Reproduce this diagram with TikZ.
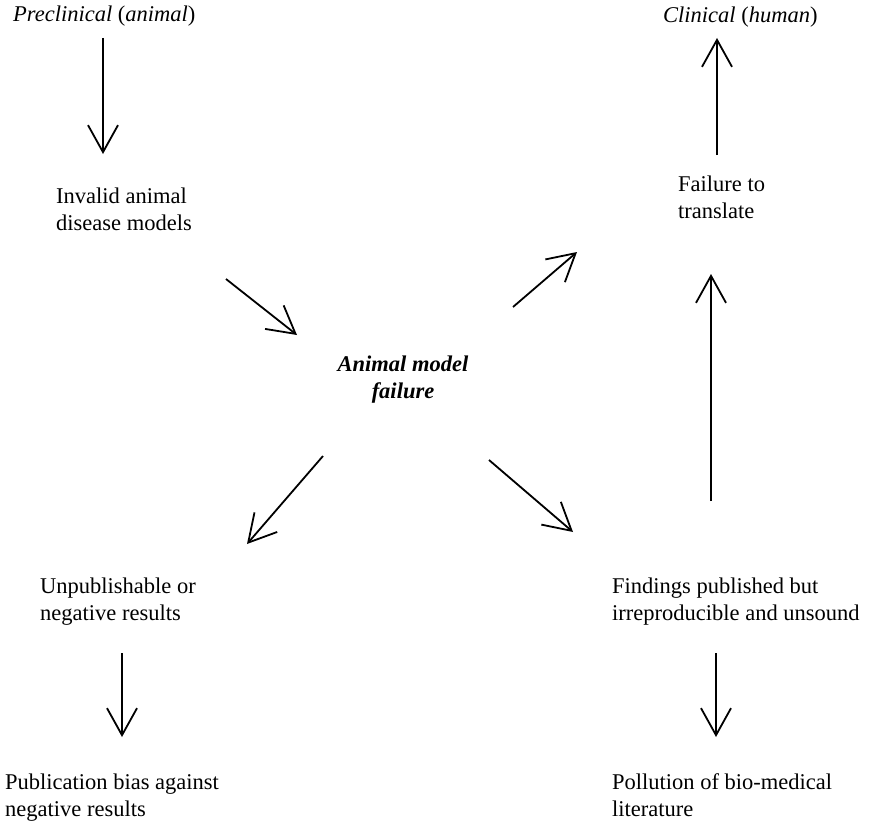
\documentclass[tikz,border=0pt]{standalone}
\usepackage{fontspec}
\setmainfont{Liberation Serif}
\usetikzlibrary{arrows.meta}

\tikzset{
  lbl/.style={inner sep=0pt, anchor=base west, align=left,
    font=\fontsize{22.5}{27}\selectfont},
  arr/.style={line width=1.8pt, -{Straight Barb[length=27pt,width=30pt]}}
}

\begin{document}
\begin{tikzpicture}[x=1pt,y=-1pt]
    \useasboundingbox (0,0) rectangle (872,824);

    % labels (base = baseline of the last line)
    \node[lbl] (pre)  at (13,22)   {\textit{Preclinical} (\textit{animal})};
    \node[lbl] (clin) at (663,23)  {\textit{Clinical} (\textit{human})};
    \node[lbl] (inv)  at (56,230)  {Invalid animal\\disease models};
    \node[lbl] (fail) at (678,218) {Failure to\\translate};
    \node[lbl, anchor=base, align=center] (amf) at (403,398)
      {\textbf{\textit{Animal model}}\\\textbf{\textit{failure}}};
    \node[lbl] (unp)  at (40,620)  {Unpublishable or\\negative results};
    \node[lbl] (find) at (612,620) {Findings published but\\irreproducible and unsound};
    \node[lbl] (pub)  at (5,816)   {Publication bias against\\negative results};
    \node[lbl] (pol)  at (612,816) {Pollution of bio-medical\\literature};

    % arrow ends
    \coordinate (pre-out)  at (103,38);
    \coordinate (inv-in)   at (103,154);
    \coordinate (inv-out)  at (226,279);
    \coordinate (amf-in)   at (297,335);
    \coordinate (amf-up)   at (513,307);
    \coordinate (fail-in)  at (577,252);
    \coordinate (fail-out) at (717,155);
    \coordinate (clin-in)  at (717,38);
    \coordinate (find-up)  at (711,501);
    \coordinate (fail-in2) at (711,274);
    \coordinate (amf-dl)   at (323,456);
    \coordinate (unp-in)   at (247,544);
    \coordinate (amf-dr)   at (489,460);
    \coordinate (find-in)  at (573,532);
    \coordinate (unp-out)  at (122,653);
    \coordinate (pub-in)   at (122,737);
    \coordinate (find-out) at (716,653);
    \coordinate (pol-in)   at (716,737);

    % arrows
    \draw[arr] (pre-out) -- (inv-in);
    \draw[arr] (inv-out) -- (amf-in);
    \draw[arr] (amf-up) -- (fail-in);
    \draw[arr] (fail-out) -- (clin-in);
    \draw[arr] (find-up) -- (fail-in2);
    \draw[arr] (amf-dl) -- (unp-in);
    \draw[arr] (amf-dr) -- (find-in);
    \draw[arr] (unp-out) -- (pub-in);
    \draw[arr] (find-out) -- (pol-in);
\end{tikzpicture}
\end{document}
